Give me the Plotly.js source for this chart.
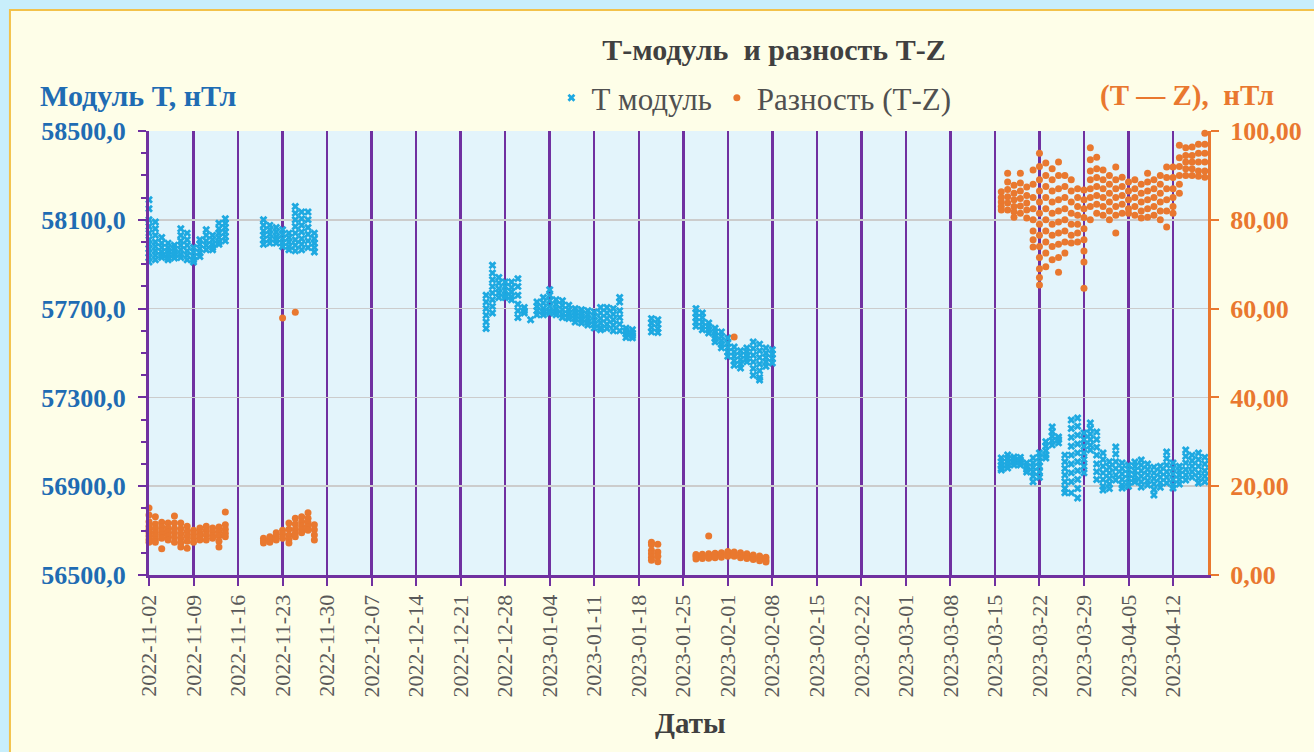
<!DOCTYPE html>
<html>
<head>
<meta charset="utf-8">
<script src="https://cdn.plot.ly/plotly-3.0.1.min.js"></script>
<style>
  html, body { margin: 0; padding: 0; background: #c8eefb; }
  #plotlyDiv { width: 1314px; height: 752px; }
</style>
</head>
<body>
<div id="plotlyDiv"></div>
<script>
// T module, nT (left axis) - one column of readings per day
var tDates = [
  '2022-11-02', '2022-11-03', '2022-11-04', '2022-11-05', '2022-11-06', '2022-11-07', '2022-11-08',
  '2022-11-09', '2022-11-10', '2022-11-11', '2022-11-12', '2022-11-13', '2022-11-14',
  '2022-11-20', '2022-11-21', '2022-11-22', '2022-11-23', '2022-11-24', '2022-11-25', '2022-11-26',
  '2022-11-27', '2022-11-28',
  '2022-12-25', '2022-12-26', '2022-12-27', '2022-12-28', '2022-12-29', '2022-12-30', '2022-12-31',
  '2023-01-01', '2023-01-02', '2023-01-03', '2023-01-04', '2023-01-05', '2023-01-06', '2023-01-07',
  '2023-01-08', '2023-01-09', '2023-01-10', '2023-01-11', '2023-01-12', '2023-01-13', '2023-01-14',
  '2023-01-15', '2023-01-16', '2023-01-17', '2023-01-20', '2023-01-21',
  '2023-01-27', '2023-01-28', '2023-01-29', '2023-01-30', '2023-01-31', '2023-02-01', '2023-02-02',
  '2023-02-03', '2023-02-04', '2023-02-05', '2023-02-06', '2023-02-07', '2023-02-08',
  '2023-03-16', '2023-03-17', '2023-03-18', '2023-03-19', '2023-03-20', '2023-03-21', '2023-03-22',
  '2023-03-23', '2023-03-24', '2023-03-25', '2023-03-26', '2023-03-27', '2023-03-28', '2023-03-29',
  '2023-03-30', '2023-03-31', '2023-04-01', '2023-04-02', '2023-04-03', '2023-04-04', '2023-04-05',
  '2023-04-06', '2023-04-07', '2023-04-08', '2023-04-09', '2023-04-10', '2023-04-11', '2023-04-12',
  '2023-04-13', '2023-04-14', '2023-04-15', '2023-04-16', '2023-04-17'
];
var tVals = [
  [58190, 58150, 58100, 58070, 58040, 58010, 57990, 57970, 57950, 57930, 57910],
  [58090, 58060, 58030, 58000, 57980, 57960, 57940, 57920],
  [58020, 57995, 57975, 57955, 57940, 57930],
  [57995, 57975, 57960, 57945, 57930, 57920],
  [57985, 57970, 57955, 57940, 57928],
  [58060, 58030, 58005, 57985, 57965, 57945, 57930],
  [58040, 58010, 57985, 57960, 57940, 57920],
  [57975, 57955, 57935, 57920, 57910],
  [58010, 57990, 57970, 57950, 57935],
  [58055, 58030, 58005, 57985, 57965],
  [58030, 58010, 57990, 57975, 57965],
  [58085, 58060, 58040, 58020, 58000, 57990],
  [58105, 58085, 58065, 58045, 58025, 58005],

  [58100, 58075, 58050, 58030, 58010, 57990],
  [58075, 58055, 58035, 58015, 57995],
  [58065, 58045, 58025, 58010, 57995],
  [58055, 58035, 58015, 57995, 57980],
  [58040, 58020, 58000, 57980, 57965],
  [58160, 58130, 58100, 58070, 58040, 58010, 57985, 57960],
  [58135, 58105, 58075, 58045, 58015, 57990, 57965],
  [58135, 58100, 58065, 58035, 58005, 57975],
  [58040, 58015, 57995, 57975, 57955],

  [57760, 57730, 57700, 57670, 57640, 57610],
  [57895, 57860, 57830, 57800, 57770, 57740, 57710, 57680],
  [57840, 57815, 57790, 57770, 57750],
  [57820, 57800, 57780, 57760, 57750],
  [57820, 57795, 57775, 57755, 57740],
  [57835, 57800, 57760, 57720, 57690, 57660],
  [57705, 57690, 57680],
  [57650],
  [57730, 57710, 57690, 57672],
  [57750, 57725, 57700, 57685, 57672],
  [57785, 57760, 57735, 57710, 57690, 57680],
  [57740, 57720, 57700, 57685, 57672],
  [57735, 57715, 57695, 57675, 57660],
  [57715, 57695, 57680, 57665, 57655],
  [57700, 57685, 57670, 57655, 57640],
  [57695, 57680, 57665, 57650, 57635],
  [57690, 57672, 57655, 57640, 57626],
  [57685, 57665, 57645, 57628, 57613],
  [57705, 57680, 57655, 57635, 57615, 57605],
  [57705, 57680, 57655, 57630, 57610],
  [57700, 57675, 57650, 57625, 57600],
  [57750, 57730, 57690, 57660, 57630, 57600],
  [57612, 57598, 57585, 57570],
  [57605, 57590, 57578, 57568],
  [57655, 57635, 57615, 57595],
  [57650, 57630, 57610, 57592],

  [57700, 57680, 57660, 57640, 57620],
  [57680, 57660, 57640, 57620, 57605],
  [57635, 57620, 57605, 57590],
  [57612, 57595, 57580, 57565, 57550],
  [57595, 57575, 57555, 57538, 57523],
  [57568, 57545, 57525, 57505, 57485],
  [57527, 57505, 57485, 57465, 57445],
  [57510, 57490, 57470, 57450, 57432],
  [57523, 57505, 57490, 57475, 57460],
  [57550, 57520, 57490, 57460, 57430, 57400],
  [57540, 57510, 57480, 57450, 57420, 57390, 57378],
  [57523, 57500, 57480, 57460, 57440],
  [57515, 57495, 57475, 57455],

  [57027, 57010, 56995, 56980, 56973],
  [57041, 57025, 57010, 56995, 56982],
  [57032, 57020, 57008, 56995],
  [57030, 57018, 57005, 56995],
  [57005, 56990, 56975, 56964],
  [57027, 57005, 56985, 56965, 56945, 56920],
  [57050, 57030, 57010, 56990, 56965, 56940],
  [57100, 57080, 57060, 57040, 57027],
  [57167, 57145, 57125, 57105, 57086],
  [57122, 57110, 57095],
  [57040, 57010, 56980, 56950, 56920, 56890, 56870],
  [57198, 57160, 57120, 57080, 57040, 57000, 56960, 56920, 56870],
  [57207, 57170, 57130, 57090, 57050, 57010, 56970, 56930, 56890, 56847],
  [57140, 57110, 57080, 57050, 57020, 56990, 56960],
  [57185, 57160, 57135, 57110, 57085, 57063],
  [57144, 57110, 57075, 57040, 57000, 56965, 56930],
  [57050, 57020, 56990, 56960, 56930, 56900, 56883],
  [57010, 56985, 56960, 56935, 56910, 56890],
  [57077, 57045, 57010, 56980, 56950, 56928],
  [57005, 56980, 56955, 56930, 56905, 56892],
  [56995, 56975, 56955, 56935, 56915, 56900],
  [57009, 56990, 56970, 56950, 56930, 56919],
  [57018, 56995, 56970, 56945, 56920, 56896],
  [57000, 56975, 56950, 56925, 56905],
  [56986, 56960, 56935, 56910, 56885, 56860],
  [56990, 56965, 56940, 56915, 56895],
  [57054, 57025, 56995, 56965, 56940, 56914],
  [57005, 56980, 56955, 56930, 56905, 56892],
  [56990, 56970, 56950, 56930, 56910],
  [57063, 57035, 57005, 56975, 56950, 56928],
  [57040, 57015, 56990, 56965, 56940],
  [57050, 57020, 56990, 56960, 56935, 56914],
  [57030, 57000, 56970, 56945, 56920]
];

// difference T-Z, nT (right axis)
var dDates = [
  '2022-11-02', '2022-11-03', '2022-11-04', '2022-11-05', '2022-11-06', '2022-11-07', '2022-11-08',
  '2022-11-09', '2022-11-10', '2022-11-11', '2022-11-12', '2022-11-13', '2022-11-14',
  '2022-11-20', '2022-11-21', '2022-11-22', '2022-11-23', '2022-11-24', '2022-11-25', '2022-11-26',
  '2022-11-27', '2022-11-28',
  '2023-01-20', '2023-01-21',
  '2023-01-27', '2023-01-28', '2023-01-29', '2023-01-30', '2023-01-31', '2023-02-01', '2023-02-02',
  '2023-02-03', '2023-02-04', '2023-02-05', '2023-02-06', '2023-02-07',
  '2023-03-16', '2023-03-17', '2023-03-18', '2023-03-19', '2023-03-20', '2023-03-21', '2023-03-22',
  '2023-03-23', '2023-03-24', '2023-03-25', '2023-03-26', '2023-03-27', '2023-03-28', '2023-03-29',
  '2023-03-30', '2023-03-31', '2023-04-01', '2023-04-02', '2023-04-03', '2023-04-04', '2023-04-05',
  '2023-04-06', '2023-04-07', '2023-04-08', '2023-04-09', '2023-04-10', '2023-04-11', '2023-04-12',
  '2023-04-13', '2023-04-14', '2023-04-15', '2023-04-16', '2023-04-17'
];
var dVals = [
  [15.1, 13.5, 12.0, 11.0, 10.2, 9.5, 8.8, 8.0, 7.4],
  [13.1, 11.5, 10.5, 9.6, 8.8, 8.0, 7.4],
  [11.9, 10.8, 9.9, 9.1, 8.3, 5.9],
  [11.7, 10.6, 9.7, 8.8, 7.9],
  [13.3, 11.7, 10.5, 9.5, 8.5, 7.4],
  [11.7, 10.4, 9.3, 8.2, 7.2, 6.3],
  [11.0, 9.8, 8.7, 7.6, 6.0],
  [10.1, 9.2, 8.3, 7.4],
  [10.6, 9.6, 8.7, 7.9],
  [11.0, 10.0, 9.0, 7.9],
  [10.6, 9.7, 8.9, 8.3],
  [10.8, 9.8, 8.8, 7.6, 6.3],
  [14.2, 11.3, 10.3, 9.4, 8.6],

  [8.3, 7.7, 7.2],
  [8.6, 8.0, 7.4],
  [9.5, 8.7, 7.9],
  [57.9, 10.1, 9.2, 8.3],
  [11.7, 10.3, 9.0, 8.0, 7.2],
  [59.2, 12.8, 11.5, 10.3, 9.4, 8.6],
  [13.1, 12.0, 11.0, 10.2, 9.5],
  [14.0, 12.8, 11.8, 10.9, 10.1],
  [11.3, 10.2, 9.0, 7.9],

  [7.4, 6.8, 5.5, 4.8, 4.0, 3.3],
  [6.9, 5.2, 4.2, 3.0],

  [4.6, 4.2, 3.6],
  [4.7, 4.2, 3.7],
  [8.8, 4.8, 4.3, 3.8],
  [4.9, 4.4, 3.9],
  [5.0, 4.5, 4.0],
  [5.3, 4.8, 4.2],
  [53.6, 5.2, 4.7, 4.2],
  [5.0, 4.4, 3.9],
  [4.8, 4.2, 3.7],
  [4.5, 4.0, 3.5],
  [4.3, 3.8, 3.2],
  [4.0, 3.4, 2.9],

  [86.3, 85.0, 84.0, 83.0, 82.2],
  [90.5, 88.5, 86.8, 85.2, 83.8, 82.2],
  [87.8, 86.0, 84.5, 83.0, 81.8, 80.6],
  [90.5, 88.3, 86.5, 84.8, 83.1, 81.5],
  [87.4, 85.5, 83.8, 82.2, 80.4],
  [91.2, 88.0, 85.0, 82.5, 80.0, 77.5, 75.5, 73.9],
  [95.0, 92.0, 89.0, 86.5, 84.0, 81.5, 79.0, 76.5, 74.0, 71.5, 69.0, 67.0, 65.3],
  [92.8, 90.0, 87.5, 85.0, 82.5, 80.0, 77.5, 75.0, 72.5, 69.4],
  [91.5, 89.0, 86.5, 84.0, 81.5, 79.0, 76.5, 74.0, 71.0],
  [93.0, 90.0, 87.0, 84.5, 82.0, 79.5, 77.0, 74.5, 71.5, 68.2],
  [90.0, 87.5, 85.0, 82.5, 80.0, 77.5, 75.0, 72.5],
  [89.0, 86.5, 84.0, 81.5, 79.0, 76.5, 74.8],
  [87.0, 85.0, 83.0, 81.0, 79.0, 77.0, 75.0],
  [86.7, 84.5, 82.5, 80.5, 78.0, 75.5, 73.0, 70.5, 64.6],
  [96.2, 93.5, 91.0, 89.0, 87.0, 85.0, 83.0, 80.0],
  [94.1, 91.5, 89.5, 87.5, 85.5, 83.5, 81.5],
  [91.2, 89.0, 87.0, 85.0, 83.0, 81.0],
  [90.0, 88.0, 86.0, 84.0, 82.0, 80.0],
  [91.9, 89.0, 87.0, 85.0, 83.0, 81.0, 77.0],
  [89.6, 87.5, 85.5, 83.5, 81.5],
  [88.5, 86.5, 84.5, 82.5, 81.5],
  [89.0, 87.0, 85.0, 83.0, 81.0],
  [88.0, 86.0, 84.0, 82.0, 80.4],
  [90.5, 88.5, 86.5, 84.5, 82.5, 80.6],
  [89.0, 87.0, 85.0, 83.0, 81.0],
  [90.0, 88.0, 86.0, 84.0, 82.0, 80.0],
  [91.9, 89.5, 87.0, 84.5, 82.0, 78.4],
  [91.9, 89.5, 87.0, 85.0, 83.0, 81.5],
  [96.8, 94.0, 92.0, 90.0, 88.0, 86.0],
  [96.2, 94.5, 93.0, 91.5, 90.0],
  [96.4, 94.5, 93.0, 91.5, 90.0],
  [97.0, 95.0, 93.0, 91.0, 89.8],
  [99.5, 97.0, 95.0, 93.0, 91.0, 89.6]
];

function spread(dates, vals) {
    var x = [], y = [];
    for (var i = 0; i < dates.length; i++) {
        for (var j = 0; j < vals[i].length; j++) {
            x.push(dates[i]);
            y.push(vals[i][j]);
        }
    }
    return {x: x, y: y};
}

var tPts = spread(tDates, tVals);
var dPts = spread(dDates, dVals);

var serif = 'Liberation Serif, Times New Roman, serif';
var purple = '#7030a0';
var blue = '#1f6cb3';
var orange = '#e9782f';

var trace1 = {
    type: 'scatter',
    mode: 'markers',
    name: 'Т модуль',
    x: tPts.x,
    y: tPts.y,
    yaxis: 'y',
    cliponaxis: false,
    marker: {symbol: 'x', size: 7, color: '#1ea9e1'}
};

var trace2 = {
    type: 'scatter',
    mode: 'markers',
    name: 'Разность (Т-Z)',
    x: dPts.x,
    y: dPts.y,
    yaxis: 'y2',
    cliponaxis: false,
    marker: {symbol: 'circle', size: 7, color: orange}
};

var data = [trace1, trace2];

var layout = {
    width: 1314,
    height: 752,
    margin: {l: 149, r: 106, t: 131, b: 177},
    paper_bgcolor: '#c8eefb',
    plot_bgcolor: 'rgba(0,0,0,0)',
    separators: ', ',
    font: {family: serif, size: 22, color: '#595959'},
    title: {
        text: '<b>Т-модуль  и разность Т-Z</b>',
        font: {family: serif, size: 30, color: '#404040'},
        xref: 'container', x: 0.589, xanchor: 'center',
        yref: 'container', y: 0.934, yanchor: 'middle'
    },
    showlegend: true,
    legend: {
        orientation: 'h',
        x: 0.38, xanchor: 'left',
        y: 1.074, yanchor: 'middle',
        bgcolor: 'rgba(0,0,0,0)',
        font: {family: serif, size: 31, color: '#505050'},
        itemwidth: 30
    },
    xaxis: {
        type: 'date',
        range: ['2022-11-02', '2023-04-17 12:00'],
        tick0: '2022-11-02',
        dtick: 7 * 86400000,
        tickformat: '%Y-%m-%d',
        tickangle: -90,
        tickfont: {family: serif, size: 22, color: '#595959'},
        showgrid: true,
        gridcolor: purple,
        gridwidth: 2.5,
        showline: true,
        linecolor: purple,
        linewidth: 3,
        ticks: 'outside',
        ticklen: 8,
        tickwidth: 2,
        tickcolor: purple,
        zeroline: false
    },
    yaxis: {
        range: [56500, 58500],
        tick0: 56500,
        dtick: 400,
        tickformat: '.1f',
        tickfont: {family: serif, size: 26, color: blue, weight: 'bold'},
        ticklabelstandoff: 7,
        showgrid: true,
        gridcolor: '#cccccc',
        gridwidth: 1.5,
        showline: true,
        linecolor: purple,
        linewidth: 3,
        ticks: 'outside',
        ticklen: 8,
        tickwidth: 2,
        tickcolor: purple,
        minor: {dtick: 100, ticks: 'outside', ticklen: 5, tickwidth: 2, tickcolor: purple, showgrid: false},
        zeroline: false
    },
    yaxis2: {
        overlaying: 'y',
        side: 'right',
        range: [0, 100],
        tick0: 0,
        dtick: 20,
        tickformat: '.2f',
        tickfont: {family: serif, size: 26, color: orange, weight: 'bold'},
        ticklabelstandoff: 6,
        showgrid: false,
        showline: true,
        linecolor: orange,
        linewidth: 3,
        ticks: 'outside',
        ticklen: 8,
        tickwidth: 2,
        tickcolor: orange,
        zeroline: false
    },
    shapes: [
        {type: 'rect', xref: 'paper', yref: 'paper', layer: 'below',
         x0: -0.1313, x1: 1.11, y0: -0.42, y1: 1.2725,
         fillcolor: '#fefee8', line: {color: '#f3c24a', width: 2}},
        {type: 'rect', xref: 'paper', yref: 'paper', layer: 'below',
         x0: 0, x1: 1, y0: 0, y1: 1,
         fillcolor: '#e3f4fb', line: {width: 0}}
    ],
    annotations: [
        {text: '<b>Модуль Т, нТл</b>', xref: 'paper', yref: 'paper',
         x: -0.1048, xanchor: 'left', y: 1.081, yanchor: 'middle', showarrow: false,
         font: {family: serif, size: 30, color: blue}},
        {text: '<b>(Т — Z),  нТл</b>', xref: 'paper', yref: 'paper',
         x: 0.896, xanchor: 'left', y: 1.081, yanchor: 'middle', showarrow: false,
         font: {family: serif, size: 29, color: orange}},
        {text: '<b>Даты</b>', xref: 'paper', yref: 'paper',
         x: 0.511, xanchor: 'center', y: -0.333, yanchor: 'middle', showarrow: false,
         font: {family: serif, size: 29, color: '#404040'}}
    ]
};

Plotly.newPlot('plotlyDiv', data, layout, {staticPlot: true});
</script>
</body>
</html>
